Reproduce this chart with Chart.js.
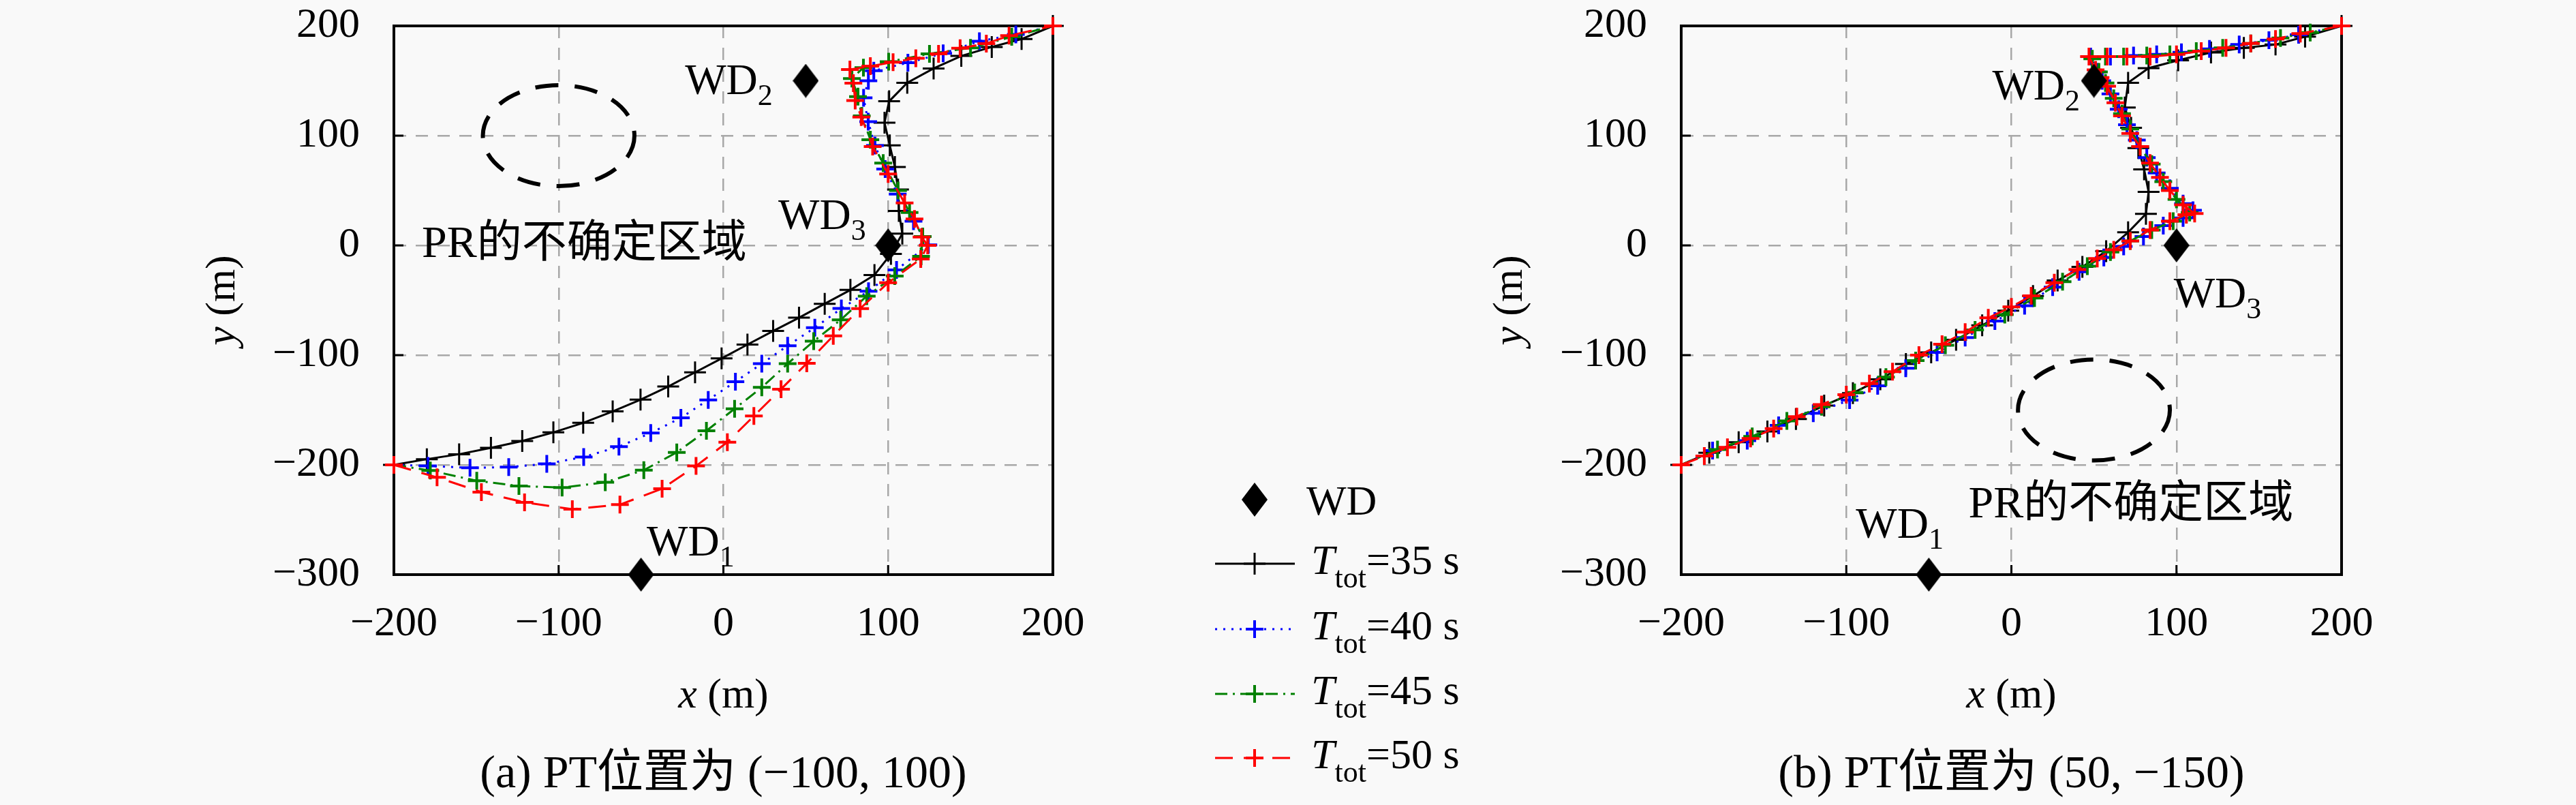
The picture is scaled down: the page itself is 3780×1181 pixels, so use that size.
<!DOCTYPE html>
<html>
<head>
<meta charset="utf-8">
<script src="https://cdn.jsdelivr.net/npm/chart.js@4.4.0/dist/chart.umd.min.js"></script>
<style>
  html, body { margin: 0; padding: 0; background: #f9f9f9; }
  body { width: 3780px; height: 1181px; position: relative; overflow: hidden; font-family: "Liberation Serif", serif; }
  canvas { position: absolute; left: 0; top: 0; }
  .warm { position: absolute; left: -9999px; top: 0; font-size: 20px; }
</style>
</head>
<body>
<span class="warm" style="font-family:'Liberation Serif'">WD 0123 <i>T x y</i></span>
<span class="warm" style="font-family:'Noto Sans CJK SC'">PR的不确定区域位置为</span>
<canvas id="chartA" width="3780" height="1181"></canvas>
<canvas id="chartB" width="3780" height="1181"></canvas>
<script>
// axis ticks
const xTicks = [-200, -100, 0, 100, 200];
const yTicks = [-300, -200, -100, 0, 100, 200];

// WD positions (same in both panels)
const wdX = [-50, 50, 100];
const wdY = [-300, 150, 0];

// (a) PT at (-100, 100)
const a35x = [-200, -180, -160.4, -141.1, -122.1, -103.2, -85.1, -67.2, -50.3, -33.5, -17.2, -1.1, 14.6, 30.2, 45.9, 61.5, 77.1, 91.7, 101.7, 108.6, 106.5, 106, 104.1, 101, 97.8, 100.6, 111.6, 127.6, 144.4, 162.9, 181, 200];
const a35y = [-200, -194.8, -190.3, -184.5, -178.3, -170.4, -161.7, -151.3, -140.6, -128.6, -115.7, -103, -90.4, -78, -65.9, -53.2, -40.6, -27, -7.8, 10.7, 31.3, 50.9, 71.5, 91.1, 111.8, 131.3, 148.2, 161.2, 172.6, 180.8, 188, 200];
const a40x = [-200, -179.3, -153.8, -130.3, -107.2, -84.8, -63.4, -44.1, -25.8, -9.2, 7.3, 23.3, 39, 55.5, 71.6, 88.1, 105.1, 124.4, 115.4, 105.8, 98.2, 92, 87.9, 85.1, 88, 91.3, 112, 133.4, 155.4, 177.5, 200];
const a40y = [-200, -201, -202.7, -202, -199, -192.8, -183.4, -171, -157.1, -140.8, -124.2, -107.8, -91.4, -75, -57.5, -41.7, -22.3, 0.4, 22, 46.8, 69.5, 91, 112.8, 134.4, 150, 159.2, 166.4, 175, 186, 192.2, 200];
const a45x = [-200, -177.9, -149.7, -124.1, -97.9, -71.7, -48.3, -28.3, -10.3, 6.8, 23.3, 39, 54.8, 71.2, 87, 104, 120, 121, 113, 106, 97, 89.2, 84, 81.7, 78, 85, 100.3, 125.1, 150, 175, 200];
const a45y = [-200, -205.2, -214.5, -219.3, -220.7, -215.9, -204.8, -188.6, -168.9, -148.9, -129.4, -107.8, -87.3, -67.8, -46.2, -28, -10, 8, 30, 50, 75, 96.3, 118, 135.5, 152, 162, 167.4, 174.6, 180, 190, 200];
const a50x = [-200, -173.8, -146.9, -120.7, -91.7, -62.8, -37.2, -16.6, 2.4, 18.5, 35, 50.6, 66.7, 83, 100, 119.8, 124, 120.3, 116, 110, 100, 90.6, 83.7, 80, 78.9, 76.8, 89.2, 103, 116.8, 130.6, 143.7, 159.6, 173.4, 200];
const a50y = [-200, -211.4, -224.8, -234.2, -240.4, -236.2, -221.7, -201, -179.3, -155.5, -131, -107.5, -82.4, -57.6, -34, -12.4, 0, 7.6, 24, 38.6, 65, 90.1, 116.9, 132, 147.8, 160.2, 163.3, 167, 170.5, 174.6, 179.7, 183.9, 191.1, 200];

// (b) PT at (50, -150)
const b35x = [-200, -183, -165.2, -147.8, -130.5, -113.4, -96, -79.4, -63.9, -48.6, -33.5, -17.7, -1.9, 13.1, 28, 43, 57.4, 70.7, 81.5, 83.1, 80.4, 76.9, 72.5, 68.7, 70.7, 83.1, 101, 120.9, 140.8, 160, 177.9, 200];
const b35y = [-200, -189, -179.4, -169.5, -158.2, -145.9, -134.6, -122, -108, -97.5, -86, -72.8, -59.5, -46.1, -32, -19.5, -5.3, 11.9, 28.7, 48.8, 69.3, 88.7, 107.2, 125.6, 148.2, 161.5, 168.6, 175.8, 179.9, 183, 190.2, 200];
const b40x = [-200, -181, -160, -141, -120, -98, -81, -64, -45, -28, -10, 8, 25, 41, 56, 68, 80, 92, 104, 110, 104, 96, 88, 82, 76, 70, 65, 60, 55, 52, 48, 60, 74, 88, 103, 120, 138, 156, 174, 200];
const b40y = [-200, -187, -178, -164, -153, -141, -128, -112, -97.5, -84, -69, -55, -38, -24, -11, -1, 8, 18, 25, 32, 38, 52, 66, 80, 96, 110, 124, 138, 150, 158, 172, 172, 173, 174, 176, 179, 183, 187, 192, 200];
const b45x = [-200, -178, -157, -136, -115, -95, -76, -58, -40, -22, -4, 14, 31, 46, 60, 72, 85, 98, 108, 100, 92, 85, 78, 72, 67, 62, 57, 53, 49, 57, 68, 82, 96, 112, 128, 145, 163, 181, 200];
const b45y = [-200, -186, -174, -160, -147, -134, -120, -105, -91, -77, -63, -48, -33, -19, -6, 4, 14, 22, 30, 42, 58, 74, 90, 106, 120, 134, 148, 158, 170, 172, 172, 173, 174, 177, 180, 184, 189, 194, 200];
const b50x = [-200, -186, -172, -158, -144, -130, -115, -100, -86, -72, -56, -42, -28, -14, 0, 12, 26, 40, 52, 62, 72, 84, 96, 106, 111, 104, 96, 90, 84, 78, 72, 67, 63, 58, 54, 51, 47, 58, 70, 84, 100, 115, 130, 145, 160, 175, 200];
const b50y = [-200, -192, -184, -176, -167, -156, -145, -136, -126, -115, -100, -90, -79, -66, -56, -46, -34, -22, -12, -4, 4, 14, 22, 28, 29, 37, 50, 62, 75, 90, 102, 118, 130, 145, 153, 160, 172, 172, 172, 172, 174, 177, 180, 184, 188, 193, 200];

const legendSecs = ['35', '40', '45', '50'];

const serif = "'Liberation Serif', 'Noto Sans CJK SC', serif";
const F = (size, italic) => (italic ? 'italic ' : '') + size + 'px ' + serif;

const styles = [
  { color: '#000000', dash: [], radius: 16, pw: 3 },
  { color: '#0000ff', dash: [3, 9], radius: 13, pw: 4 },
  { color: '#008000', dash: [18, 8, 3, 8], radius: 13, pw: 4 },
  { color: '#ff0000', dash: [26, 16], radius: 13, pw: 4 }
];

// diamond marker for WD
const diamond = document.createElement('canvas');
diamond.width = 38; diamond.height = 50;
(function () {
  const c = diamond.getContext('2d');
  c.fillStyle = '#000';
  c.beginPath(); c.moveTo(19, 0); c.lineTo(38, 25); c.lineTo(19, 50); c.lineTo(0, 25); c.closePath(); c.fill();
})();

function pts(xs, ys) { return xs.map((x, i) => ({ x: x, y: ys[i] })); }

function series(xs, ys, st, order) {
  return {
    data: pts(xs, ys), showLine: true, tension: 0,
    borderColor: st.color, backgroundColor: st.color, borderWidth: 3, borderDash: st.dash,
    pointStyle: 'cross', pointRadius: st.radius, pointBorderWidth: st.pw,
    pointBorderColor: st.color, clip: false, order: order
  };
}

function wdSet() {
  return { data: pts(wdX, wdY), showLine: false, pointStyle: diamond, pointRadius: 20, clip: false, order: 0 };
}

// annotation layout per panel (anchors in data units)
const notes = {
  chartA: {
    ellipse: { x: -100, y: 100, r: 46 },
    region: { x: -183, y: 0 },
    wd: [{ x: -46.5, y: -282.6, sub: '1' }, { x: -23.3, y: 137.9, sub: '2' }, { x: 33.3, y: 14.9, sub: '3' }],
    caption: '(a) PT位置为 (−100, 100)',
    legend: { x0: 1783, x1: 1900, mx: 1841, textX: 1917, wdY: 733, rows: [827, 923, 1018, 1112] }
  },
  chartB: {
    ellipse: { x: 50, y: -150, r: 46 },
    region: { x: -26, y: -237.3 },
    wd: [{ x: -94.2, y: -266.5, sub: '1' }, { x: -11.6, y: 132.9, sub: '2' }, { x: 98.3, y: -56.5, sub: '3' }],
    caption: '(b) PT位置为 (50, −150)'
  }
};

function rich(ctx, runs, x, y, align) {
  let w = 0;
  const widths = runs.map(r => { ctx.font = r.font; const m = ctx.measureText(r.t).width; w += m; return m; });
  let cx = align === 'center' ? x - w / 2 : x;
  runs.forEach((r, i) => { ctx.font = r.font; ctx.fillText(r.t, cx, y + (r.dy || 0)); cx += widths[i]; });
}

const decor = {
  id: 'decor',
  beforeDatasetsDraw(chart) {
    const n = notes[chart.canvas.id];
    const { ctx, chartArea: a } = chart;
    const xs = chart.scales.x, ys = chart.scales.y;
    ctx.save();
    ctx.strokeStyle = '#000';
    const e = n.ellipse;
    const cx = xs.getPixelForValue(e.x), cy = ys.getPixelForValue(e.y);
    const rx = Math.abs(xs.getPixelForValue(e.x + e.r) - cx);
    const ry = Math.abs(ys.getPixelForValue(e.y + e.r) - cy);
    ctx.setLineDash([34, 24]);
    ctx.lineWidth = 6;
    ctx.beginPath(); ctx.ellipse(cx, cy, rx, ry, 0, 0, Math.PI * 2); ctx.stroke();
    ctx.setLineDash([]);
    ctx.lineWidth = 4;
    ctx.strokeRect(a.left, a.top, a.right - a.left, a.bottom - a.top);
    ctx.lineWidth = 3;
    xTicks.forEach(v => {
      const px = xs.getPixelForValue(v);
      ctx.beginPath(); ctx.moveTo(px, a.bottom); ctx.lineTo(px, a.bottom - 14); ctx.stroke();
    });
    yTicks.forEach(v => {
      const py = ys.getPixelForValue(v);
      ctx.beginPath(); ctx.moveTo(a.left, py); ctx.lineTo(a.left + 14, py); ctx.stroke();
    });
    ctx.restore();
  },
  afterDraw(chart) {
    const n = notes[chart.canvas.id];
    const { ctx, chartArea: a } = chart;
    const xs = chart.scales.x, ys = chart.scales.y;
    const midX = (a.left + a.right) / 2;
    ctx.save();
    ctx.fillStyle = '#000';

    // axis titles and caption
    ctx.textBaseline = 'middle';
    rich(ctx, [{ t: 'x', font: F(62, true) }, { t: ' (m)', font: F(62) }], midX, a.bottom + 179, 'center');
    rich(ctx, [{ t: n.caption, font: F(68) }], midX, a.bottom + 294, 'center');
    ctx.save();
    ctx.translate(a.left - 250, (a.top + a.bottom) / 2);
    ctx.rotate(-Math.PI / 2);
    rich(ctx, [{ t: 'y', font: F(62, true) }, { t: ' (m)', font: F(62) }], 0, 0, 'center');
    ctx.restore();

    // uncertainty region label
    rich(ctx, [{ t: 'PR的不确定区域', font: F(66) }], xs.getPixelForValue(n.region.x), ys.getPixelForValue(n.region.y), 'left');

    // WD labels
    ctx.textBaseline = 'alphabetic';
    n.wd.forEach(w => {
      rich(ctx, [{ t: 'WD', font: F(64) }, { t: w.sub, font: F(44), dy: 16 }],
        xs.getPixelForValue(w.x), ys.getPixelForValue(w.y), 'left');
    });

    // legend
    const L = n.legend;
    if (L) {
      ctx.drawImage(diamond, L.mx - 19, L.wdY - 25);
      rich(ctx, [{ t: 'WD', font: F(62) }], L.textX, L.wdY + 22, 'left');
      L.rows.forEach((ry, i) => {
        const st = styles[i];
        ctx.save();
        ctx.strokeStyle = st.color;
        ctx.lineWidth = 3;
        ctx.setLineDash(st.dash);
        ctx.beginPath(); ctx.moveTo(L.x0, ry); ctx.lineTo(L.x1, ry); ctx.stroke();
        ctx.setLineDash([]);
        ctx.lineWidth = st.pw;
        ctx.beginPath();
        ctx.moveTo(L.mx - st.radius, ry); ctx.lineTo(L.mx + st.radius, ry);
        ctx.moveTo(L.mx, ry - st.radius); ctx.lineTo(L.mx, ry + st.radius);
        ctx.stroke();
        ctx.restore();
        rich(ctx, [
          { t: 'T', font: F(62, true) },
          { t: 'tot', font: F(44), dy: 20 },
          { t: '=' + legendSecs[i] + ' s', font: F(62) }
        ], L.textX + 7, ry + 15, 'left');
      });
    }
    ctx.restore();
  }
};
Chart.register(decor);

const fmt = v => (v < 0 ? '−' + Math.abs(v) : String(v));

function makeOptions(axisLeft, padRight) {
  const tickFont = { family: serif, size: 62, lineHeight: 1.2 };
  return {
    responsive: false,
    animation: false,
    devicePixelRatio: 1,
    layout: { padding: { left: 0, right: padRight, top: 38, bottom: 0 } },
    plugins: { legend: { display: false }, tooltip: { enabled: false } },
    scales: {
      x: {
        type: 'linear', min: -200, max: 200,
        afterBuildTicks: s => { s.ticks = xTicks.map(v => ({ value: v })); },
        afterFit: s => { s.height = 338; },
        grid: { color: '#a8a8a8', lineWidth: 2.5, drawTicks: false },
        border: { display: false, dash: [18, 14] },
        ticks: { padding: 36, color: '#000', font: tickFont, maxRotation: 0, autoSkip: false, callback: v => fmt(v) }
      },
      y: {
        type: 'linear', min: -300, max: 200,
        afterBuildTicks: s => { s.ticks = yTicks.map(v => ({ value: v })); },
        afterFit: s => { s.width = axisLeft; s.paddingTop = 0; s.paddingBottom = 0; },
        grid: { color: '#a8a8a8', lineWidth: 2.5, drawTicks: false },
        border: { display: false, dash: [18, 14] },
        ticks: { padding: 50, color: '#000', font: tickFont, autoSkip: false, callback: v => fmt(v) }
      }
    }
  };
}

function build() {
  new Chart(document.getElementById('chartA'), {
    type: 'scatter',
    data: {
      datasets: [
        wdSet(),
        series(a50x, a50y, styles[3], 1),
        series(a45x, a45y, styles[2], 2),
        series(a40x, a40y, styles[1], 3),
        series(a35x, a35y, styles[0], 4)
      ]
    },
    options: makeOptions(578, 3780 - 1545)
  });

  new Chart(document.getElementById('chartB'), {
    type: 'scatter',
    data: {
      datasets: [
        wdSet(),
        series(b50x, b50y, styles[3], 1),
        series(b45x, b45y, styles[2], 2),
        series(b40x, b40y, styles[1], 3),
        series(b35x, b35y, styles[0], 4)
      ]
    },
    options: makeOptions(2467, 3780 - 3436)
  });
}

const fontLoads = [
  document.fonts.load("62px 'Liberation Serif'"),
  document.fonts.load("italic 62px 'Liberation Serif'"),
  document.fonts.load("64px 'Noto Sans CJK SC'", '的不确定区域位置为')
];
Promise.all(fontLoads).then(build, build);
</script>
</body>
</html>
